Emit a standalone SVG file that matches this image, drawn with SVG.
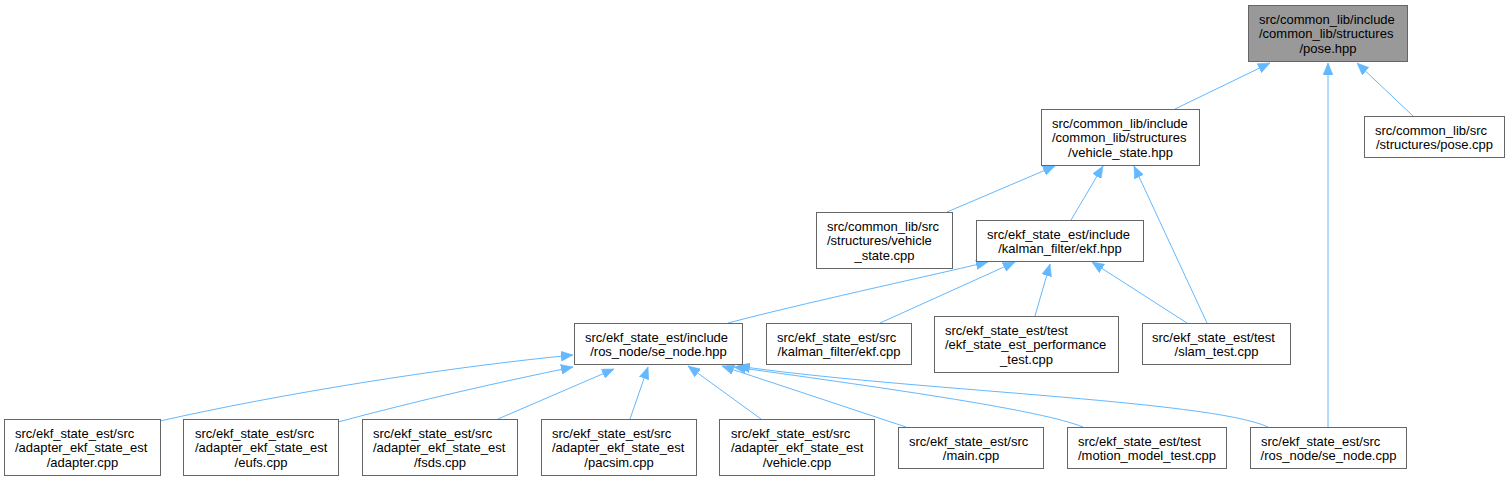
<svg xmlns="http://www.w3.org/2000/svg" width="1510" height="481" viewBox="0 0 1510 481">
<style>
.n rect{fill:#ffffff;stroke:#666666;stroke-width:1}
.n.root rect{fill:#999999}
.n text{font-family:"Liberation Sans",Arial,sans-serif;font-size:13px;fill:#000000}
.m{text-anchor:middle}
#edges path{fill:none;stroke:#63b8ff;stroke-width:1;marker-end:url(#ah)}
</style>
<defs>
<marker id="ah" markerUnits="userSpaceOnUse" markerWidth="12" markerHeight="10" viewBox="0 0 12 10" refX="12" refY="5" orient="auto">
<path d="M0,0 L12,5 L0,10 z" fill="#63b8ff" stroke="#63b8ff" stroke-width="0.5"/>
</marker>
</defs>
<rect width="1510" height="481" fill="#ffffff"/>
<g id="edges">
<path d="M1175,109 L1270,63"/>
<path d="M1328,427 L1328,63"/>
<path d="M1413,116 L1357,63"/>
<path d="M947,212 L1055,166"/>
<path d="M1071,220 L1103,166"/>
<path d="M1207,323 L1134,166"/>
<path d="M728,323 C800,304 920,278 988,262"/>
<path d="M880,323 L1015,262"/>
<path d="M1035,316 L1050,264"/>
<path d="M1187,323 L1092,262"/>
<path d="M160,421 C280,394 440,368 573,355"/>
<path d="M338,422 C420,400 500,382 573,367"/>
<path d="M498,419 L614,369"/>
<path d="M630,419 L648,367"/>
<path d="M761,419 L688,366"/>
<path d="M906,427 L722,366"/>
<path d="M1083,427 C1040,410 900,390 734,367"/>
<path d="M1268,427 C1210,400 900,390 738,366"/>
</g>
<g id="pose_hpp" class="n root"><rect x="1248.5" y="5.5" width="159" height="56"/><text x="1259" y="23.5">src/common_lib/include</text><text x="1259" y="38">/common_lib/structures</text><text class="m" x="1328" y="52.5">/pose.hpp</text></g>
<g id="vehicle_state_hpp" class="n"><rect x="1041.5" y="109.5" width="158" height="56"/><text x="1052" y="127.5">src/common_lib/include</text><text x="1052" y="142">/common_lib/structures</text><text class="m" x="1120.5" y="156.5">/vehicle_state.hpp</text></g>
<g id="pose_cpp" class="n"><rect x="1364.5" y="116.5" width="140" height="41"/><text x="1375" y="134.5">src/common_lib/src</text><text class="m" x="1434.5" y="149">/structures/pose.cpp</text></g>
<g id="vehicle_state_cpp" class="n"><rect x="816.5" y="212.5" width="136" height="56"/><text x="827" y="230.5">src/common_lib/src</text><text x="827" y="245">/structures/vehicle</text><text class="m" x="884.5" y="259.5">_state.cpp</text></g>
<g id="ekf_hpp" class="n"><rect x="976.5" y="220.5" width="167" height="41"/><text x="987" y="238.5">src/ekf_state_est/include</text><text class="m" x="1060" y="253">/kalman_filter/ekf.hpp</text></g>
<g id="se_node_hpp" class="n"><rect x="574.5" y="323.5" width="168" height="41"/><text x="585" y="341.5">src/ekf_state_est/include</text><text class="m" x="658.5" y="356">/ros_node/se_node.hpp</text></g>
<g id="ekf_cpp" class="n"><rect x="766.5" y="323.5" width="145" height="41"/><text x="777" y="341.5">src/ekf_state_est/src</text><text class="m" x="839" y="356">/kalman_filter/ekf.cpp</text></g>
<g id="perf_test" class="n"><rect x="934.5" y="316.5" width="184" height="56"/><text x="945" y="334.5">src/ekf_state_est/test</text><text x="945" y="349">/ekf_state_est_performance</text><text class="m" x="1026.5" y="363.5">_test.cpp</text></g>
<g id="slam_test" class="n"><rect x="1142.5" y="323.5" width="148" height="41"/><text x="1152" y="341.5">src/ekf_state_est/test</text><text class="m" x="1216.5" y="356">/slam_test.cpp</text></g>
<g id="adapter_cpp" class="n"><rect x="4.5" y="419.5" width="156" height="56"/><text x="15" y="437.5">src/ekf_state_est/src</text><text x="15" y="452">/adapter_ekf_state_est</text><text class="m" x="82.5" y="466.5">/adapter.cpp</text></g>
<g id="eufs_cpp" class="n"><rect x="183.5" y="419.5" width="155" height="56"/><text x="195" y="437.5">src/ekf_state_est/src</text><text x="195" y="452">/adapter_ekf_state_est</text><text class="m" x="261" y="466.5">/eufs.cpp</text></g>
<g id="fsds_cpp" class="n"><rect x="362.5" y="419.5" width="155" height="56"/><text x="373" y="437.5">src/ekf_state_est/src</text><text x="373" y="452">/adapter_ekf_state_est</text><text class="m" x="440" y="466.5">/fsds.cpp</text></g>
<g id="pacsim_cpp" class="n"><rect x="541.5" y="419.5" width="155" height="56"/><text x="552" y="437.5">src/ekf_state_est/src</text><text x="552" y="452">/adapter_ekf_state_est</text><text class="m" x="619" y="466.5">/pacsim.cpp</text></g>
<g id="vehicle_cpp" class="n"><rect x="719.5" y="419.5" width="155" height="56"/><text x="731" y="437.5">src/ekf_state_est/src</text><text x="731" y="452">/adapter_ekf_state_est</text><text class="m" x="797" y="466.5">/vehicle.cpp</text></g>
<g id="main_cpp" class="n"><rect x="898.5" y="427.5" width="145" height="41"/><text x="909" y="445.5">src/ekf_state_est/src</text><text class="m" x="971" y="460">/main.cpp</text></g>
<g id="motion_model_test" class="n"><rect x="1067.5" y="427.5" width="159" height="41"/><text x="1078" y="445.5">src/ekf_state_est/test</text><text class="m" x="1147" y="460">/motion_model_test.cpp</text></g>
<g id="se_node_cpp" class="n"><rect x="1250.5" y="427.5" width="156" height="41"/><text x="1261" y="445.5">src/ekf_state_est/src</text><text class="m" x="1328.5" y="460">/ros_node/se_node.cpp</text></g>
</svg>
